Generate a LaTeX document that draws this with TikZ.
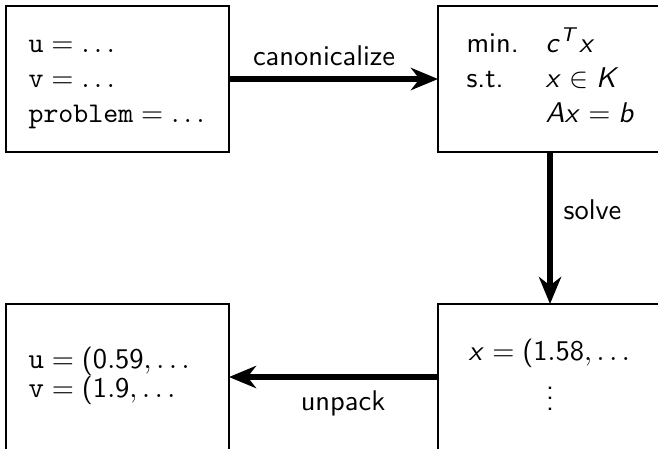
\documentclass[tikz,border=0pt]{standalone}
\usetikzlibrary{arrows.meta}
\DeclareSymbolFont{sfitletters}{OT1}{cmss}{m}{sl}
\SetSymbolFont{operators}{normal}{OT1}{cmss}{m}{n}
\DeclareMathSymbol{x}{\mathalpha}{sfitletters}{`x}
\DeclareMathSymbol{c}{\mathalpha}{sfitletters}{`c}
\DeclareMathSymbol{T}{\mathalpha}{sfitletters}{`T}
\DeclareMathSymbol{K}{\mathalpha}{sfitletters}{`K}
\DeclareMathSymbol{A}{\mathalpha}{sfitletters}{`A}
\DeclareMathSymbol{b}{\mathalpha}{sfitletters}{`b}
\newcommand\colvdots{\vbox{\baselineskip3.6pt\lineskiplimit0pt\hbox{.}\hbox{.}\hbox{.}}}
\begin{document}
\begin{tikzpicture}[x=0.3509pt, y=-0.3509pt, font=\sffamily,
  box/.style={draw, line width=0.4pt, rectangle, inner sep=0pt, outer sep=0pt, minimum height=51.23pt},
  txt/.style={inner sep=0pt, anchor=base west},
  bigtxt/.style={inner sep=0pt, anchor=base west, font=\sffamily\fontsize{10.3pt}{12pt}\selectfont},
  lbl/.style={inner sep=0pt, anchor=base},
  flow/.style={line width=2.4pt, -{Stealth[length=9.5pt,width=7.8pt,inset=3pt]}}]
\useasboundingbox (0,0) rectangle (658,448);
\clip (0,0) rectangle (658,448);
% boxes
\node[box, minimum width=78.25pt] (prog) at (117.5,79) {};
\node[box, minimum width=78.6pt] (cone) at (550,79) {};
\node[box, minimum width=78.25pt] (vals) at (117.5,377) {};
\node[box, minimum width=78.6pt] (sol) at (550,377) {};
% contents
\node[txt] (pu) at (28,52) {$\texttt{u} = \ldots$};
\node[txt] (pv) at (28,87) {$\texttt{v} = \ldots$};
\node[txt] (pp) at (28,122) {$\texttt{problem} = \ldots$};
\node[txt] (cmin) at (466,52) {min.};
\node[txt] (cst) at (466,87) {s.t.};
\node[txt] (cobj) at (545,52) {$c^Tx$};
\node[txt] (ccon) at (545,87) {$x \in K$};
\node[txt] (ceq) at (545,122) {$Ax = b$};
\node[txt] (sx) at (468,360) {$x = (1.58, \ldots$};
\node[lbl] (sdots) at (550,410) {\colvdots};
\node[bigtxt] (vu) at (28,368) {$\texttt{u} = (0.59, \ldots$};
\node[bigtxt] (vv) at (28,397) {$\texttt{v} = (1.9, \ldots$};
% arrows
\draw[flow] (prog.east) -- (cone.west);
\draw[flow] (cone.south) -- (sol.north);
\draw[flow] (sol.west) -- (vals.east);
% labels
\node[lbl] (lcan) at (324,65) {canonicalize};
\node[txt] (lsolve) at (563,219) {solve};
\node[lbl] (lunp) at (343,410) {unpack};
\end{tikzpicture}
\end{document}
